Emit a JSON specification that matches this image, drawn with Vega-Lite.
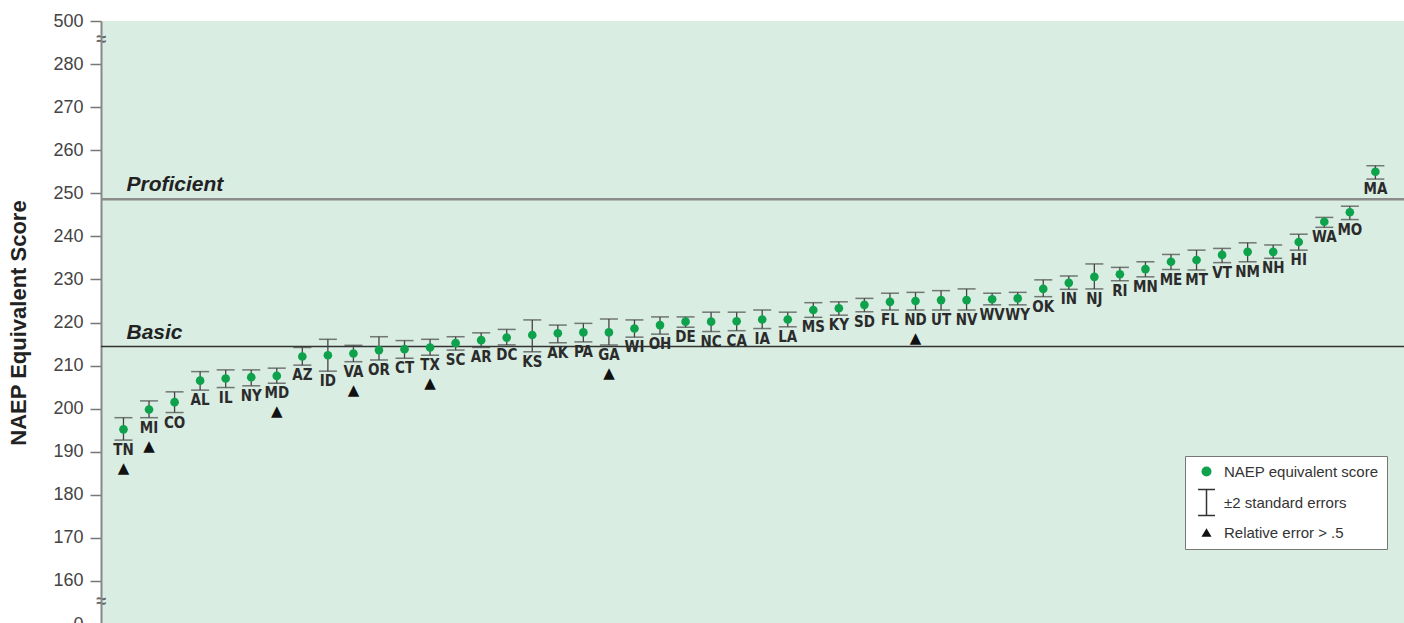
{
  "$schema": "https://vega.github.io/schema/vega-lite/v6.json",
  "width": 1303,
  "height": 603,
  "autosize": {"type": "none"},
  "padding": {"left": 101, "top": 21, "right": 0, "bottom": 0},
  "background": "white",
  "config": {
    "view": {"fill": "#d9ede2", "stroke": null},
    "font": "Liberation Sans"
  },
  "datasets": {
    "states": [
      {"s": "TN", "v": 195.2, "lo": 192.7, "hi": 197.9, "f": 1},
      {"s": "MI", "v": 199.8, "lo": 197.9, "hi": 201.8, "f": 1},
      {"s": "CO", "v": 201.5, "lo": 199.1, "hi": 203.9, "f": 0},
      {"s": "AL", "v": 206.5, "lo": 204.3, "hi": 208.6, "f": 0},
      {"s": "IL", "v": 207.0, "lo": 204.9, "hi": 209.0, "f": 0},
      {"s": "NY", "v": 207.3, "lo": 205.3, "hi": 209.0, "f": 0},
      {"s": "MD", "v": 207.6, "lo": 205.9, "hi": 209.4, "f": 1},
      {"s": "AZ", "v": 212.1, "lo": 210.1, "hi": 214.2, "f": 0},
      {"s": "ID", "v": 212.4, "lo": 208.7, "hi": 216.1, "f": 0},
      {"s": "VA", "v": 212.8, "lo": 210.9, "hi": 214.7, "f": 1},
      {"s": "OR", "v": 213.6, "lo": 211.3, "hi": 216.7, "f": 0},
      {"s": "CT", "v": 213.8, "lo": 211.7, "hi": 215.8, "f": 0},
      {"s": "TX", "v": 214.2, "lo": 212.4, "hi": 216.1, "f": 1},
      {"s": "SC", "v": 215.2, "lo": 213.6, "hi": 216.7, "f": 0},
      {"s": "AR", "v": 215.9, "lo": 214.2, "hi": 217.6, "f": 0},
      {"s": "DC", "v": 216.5, "lo": 214.8, "hi": 218.4, "f": 0},
      {"s": "KS", "v": 217.1, "lo": 213.2, "hi": 220.6, "f": 0},
      {"s": "AK", "v": 217.5, "lo": 215.3, "hi": 219.4, "f": 0},
      {"s": "PA", "v": 217.7, "lo": 215.5, "hi": 219.8, "f": 0},
      {"s": "GA", "v": 217.7, "lo": 214.8, "hi": 220.8, "f": 1},
      {"s": "WI", "v": 218.6, "lo": 216.6, "hi": 220.6, "f": 0},
      {"s": "OH", "v": 219.4, "lo": 217.3, "hi": 221.3, "f": 0},
      {"s": "DE", "v": 220.2, "lo": 218.9, "hi": 221.3, "f": 0},
      {"s": "NC", "v": 220.2, "lo": 217.9, "hi": 222.4, "f": 0},
      {"s": "CA", "v": 220.3, "lo": 218.1, "hi": 222.4, "f": 0},
      {"s": "IA", "v": 220.7, "lo": 218.6, "hi": 222.9, "f": 0},
      {"s": "LA", "v": 220.7, "lo": 219.0, "hi": 222.4, "f": 0},
      {"s": "MS", "v": 222.9, "lo": 221.2, "hi": 224.6, "f": 0},
      {"s": "KY", "v": 223.3, "lo": 221.7, "hi": 224.8, "f": 0},
      {"s": "SD", "v": 224.1, "lo": 222.5, "hi": 225.6, "f": 0},
      {"s": "FL", "v": 224.8, "lo": 222.9, "hi": 226.8, "f": 0},
      {"s": "ND", "v": 225.0, "lo": 222.9, "hi": 227.0, "f": 1},
      {"s": "UT", "v": 225.2, "lo": 222.9, "hi": 227.4, "f": 0},
      {"s": "NV", "v": 225.2, "lo": 222.9, "hi": 227.8, "f": 0},
      {"s": "WV", "v": 225.4, "lo": 224.1, "hi": 226.8, "f": 0},
      {"s": "WY", "v": 225.6, "lo": 224.1, "hi": 227.0, "f": 0},
      {"s": "OK", "v": 227.8, "lo": 226.0, "hi": 229.9, "f": 0},
      {"s": "IN", "v": 229.2, "lo": 227.7, "hi": 230.8, "f": 0},
      {"s": "NJ", "v": 230.6, "lo": 227.8, "hi": 233.6, "f": 0},
      {"s": "RI", "v": 231.2, "lo": 229.7, "hi": 232.8, "f": 0},
      {"s": "MN", "v": 232.4, "lo": 230.6, "hi": 234.1, "f": 0},
      {"s": "ME", "v": 234.1, "lo": 232.3, "hi": 235.8, "f": 0},
      {"s": "MT", "v": 234.5, "lo": 232.2, "hi": 236.8, "f": 0},
      {"s": "VT", "v": 235.7, "lo": 233.9, "hi": 237.2, "f": 0},
      {"s": "NM", "v": 236.4, "lo": 234.1, "hi": 238.5, "f": 0},
      {"s": "NH", "v": 236.4, "lo": 234.9, "hi": 238.0, "f": 0},
      {"s": "HI", "v": 238.7, "lo": 236.8, "hi": 240.5, "f": 0},
      {"s": "WA", "v": 243.4, "lo": 242.1, "hi": 244.4, "f": 0},
      {"s": "MO", "v": 245.6, "lo": 243.9, "hi": 247.0, "f": 0},
      {"s": "MA", "v": 255.0, "lo": 253.3, "hi": 256.4, "f": 0}
    ],
    "levels": [
      {"level": "Proficient", "score": 248.6},
      {"level": "Basic", "score": 214.4}
    ]
  },
  "data": {"name": "states"},
  "layer": [
    {
      "data": {"name": "levels"},
      "mark": {"type": "rule"},
      "encoding": {
        "y": {
          "field": "score", "type": "quantitative", "title": "NAEP Equivalent Score",
          "scale": {"domain": [150, 290], "nice": false, "zero": false},
          "axis": {
            "values": [150, 155.2, 160, 170, 180, 190, 200, 210, 220, 230, 240, 250, 260, 270, 280, 285.7, 290],
            "tickCount": 40,
            "labelExpr": "datum.value == 290 ? '500' : datum.value == 150 ? '0' : (datum.value == 155.2 || datum.value == 285.7) ? '≈' : datum.label",
            "labelOverlap": false, "labelFlush": false, "labelBound": false,
            "titleFontSize": 22, "titleFontWeight": "bold", "titleColor": "#222222", "titlePadding": 22,
            "labelFontSize": 18,
            "labelFontWeight": {"condition": {"test": "datum.value == 155.2 || datum.value == 285.7", "value": "bold"}, "value": "normal"},
            "labelColor": {"condition": {"test": "datum.value == 155.2 || datum.value == 285.7", "value": "#666666"}, "value": "#444444"},
            "labelAlign": {"condition": {"test": "datum.value == 155.2 || datum.value == 285.7", "value": "center"}, "value": "right"},
            "labelPadding": {"condition": {"test": "datum.value == 155.2 || datum.value == 285.7", "value": -11}, "value": 7},
            "tickOpacity": {"condition": {"test": "datum.value == 155.2 || datum.value == 285.7", "value": 0}, "value": 1},
            "tickSize": 11, "tickColor": "#777777", "tickWidth": 1.5,
            "domainColor": "#888888", "domainWidth": 2, "grid": false
          }
        },
        "stroke": {"condition": {"test": "datum.level === 'Proficient'", "value": "#8c8c8c"}, "value": "#333333"},
        "strokeWidth": {"condition": {"test": "datum.level === 'Proficient'", "value": 2.5}, "value": 1.5}
      }
    },
    {
      "data": {"name": "levels"},
      "mark": {"type": "text", "align": "left", "baseline": "alphabetic", "dx": 3, "dy": -8, "fontSize": 21, "fontWeight": "bold", "fontStyle": "italic", "color": "#222222"},
      "encoding": {
        "x": {"datum": "TN", "type": "nominal", "axis": null},
        "y": {"field": "score", "type": "quantitative"},
        "text": {"field": "level"}
      }
    },
    {
      "mark": {"type": "rule", "color": "#444444", "strokeWidth": 1.3},
      "encoding": {
        "x": {"field": "s", "type": "nominal", "sort": null, "axis": null,
              "scale": {"type": "point", "padding": 1.02, "align": 0.44}},
        "y": {"field": "lo", "type": "quantitative"},
        "y2": {"field": "hi"}
      }
    },
    {
      "mark": {"type": "tick", "orient": "horizontal", "color": "#444444", "size": 18, "thickness": 1.5},
      "encoding": {
        "x": {"field": "s", "type": "nominal", "sort": null, "axis": null},
        "y": {"field": "lo", "type": "quantitative"}
      }
    },
    {
      "mark": {"type": "tick", "orient": "horizontal", "color": "#444444", "size": 18, "thickness": 1.5},
      "encoding": {
        "x": {"field": "s", "type": "nominal", "sort": null, "axis": null},
        "y": {"field": "hi", "type": "quantitative"}
      }
    },
    {
      "mark": {"type": "point", "filled": true, "size": 75, "opacity": 1},
      "encoding": {
        "x": {"field": "s", "type": "nominal", "sort": null, "axis": null},
        "y": {"field": "v", "type": "quantitative"},
        "color": {
          "datum": "NAEP equivalent score", "type": "nominal",
          "scale": {"domain": ["NAEP equivalent score", "±2 standard errors", "Relative error > .5"], "range": ["#0fa24d", "#333333", "#111111"]},
          "legend": {
            "title": null, "orient": "none", "legendX": 1084, "legendY": 435,
            "fillColor": "white", "strokeColor": "#777777", "padding": 8,
            "labelFontSize": 15, "labelColor": "#333333", "labelFont": "Liberation Sans",
            "symbolSize": 100, "rowPadding": 8, "labelOffset": 10, "symbolOffset": 6
          }
        },
        "shape": {
          "datum": "NAEP equivalent score", "type": "nominal",
          "scale": {"domain": ["NAEP equivalent score", "±2 standard errors", "Relative error > .5"], "range": ["circle", "M-1.7,-2.75H1.7V-2.45H0.15V2.45H1.7V2.75H-1.7V2.45H-0.15V-2.45H-1.7Z", "triangle-up"]},
          "legend": {
            "title": null, "orient": "none", "legendX": 1084, "legendY": 435,
            "fillColor": "white", "strokeColor": "#777777", "padding": 8,
            "labelFontSize": 15, "labelColor": "#333333", "labelFont": "Liberation Sans",
            "symbolSize": 100, "rowPadding": 8, "labelOffset": 10, "symbolOffset": 6
          }
        }
      }
    },
    {
      "mark": {"type": "text", "baseline": "top", "dy": 3, "fontSize": 15, "fontWeight": "bold", "font": "Liberation Sans Narrow, DejaVu Sans Condensed, Arial Narrow, sans-serif", "color": "#2b2b2b"},
      "encoding": {
        "x": {"field": "s", "type": "nominal", "sort": null, "axis": null},
        "y": {"field": "lo", "type": "quantitative"},
        "text": {"field": "s"}
      }
    },
    {
      "transform": [{"filter": "datum.f == 1"}],
      "mark": {"type": "text", "baseline": "middle", "dy": 28, "fontSize": 15, "font": "DejaVu Sans", "color": "#111111"},
      "encoding": {
        "x": {"field": "s", "type": "nominal", "sort": null, "axis": null},
        "y": {"field": "lo", "type": "quantitative"},
        "text": {"value": "▲"}
      }
    }
  ]
}
